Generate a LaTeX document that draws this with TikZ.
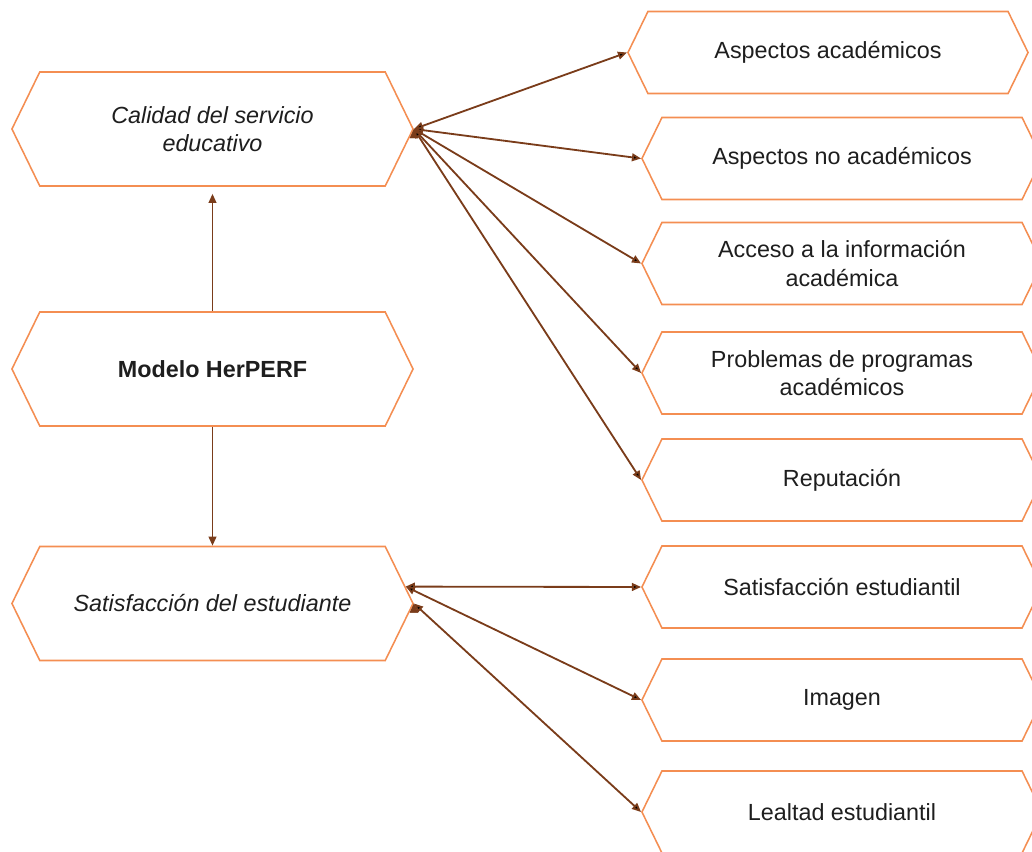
\documentclass[tikz,border=0pt]{standalone}
\usepackage{fontspec}
\setmainfont{Liberation Sans}
\usetikzlibrary{positioning, arrows.meta, shapes.symbols}
\definecolor{hexorange}{RGB}{244,142,82}
\definecolor{linkbrown}{RGB}{122,60,26}
\definecolor{textgray}{RGB}{30,30,30}

\begin{document}
\begin{tikzpicture}[x=0.025cm,y=-0.025cm,>={Triangle[length=6.5pt,width=5.5pt]}]
\tikzstyle{every node}=[font=\fontsize{16.6}{20}\selectfont,text=textgray,align=center]
\tikzstyle{hexbox}=[signal,signal to=east and west,signal pointer angle=128,draw=hexorange,line width=1.1pt,fill=white,inner sep=0pt]
\tikzstyle{bigbox}=[hexbox,minimum width=10.025cm,minimum height=2.85cm]
\tikzstyle{smallbox}=[hexbox,minimum width=10cm,minimum height=2.05cm]
\tikzstyle{link}=[<->,draw=linkbrown,line width=1.3pt]

\useasboundingbox (0,0) rectangle (1032,852);

% left column
\node[bigbox] (cal) at (212.5,129) {\textit{Calidad del servicio}\\\textit{educativo}};
\node[bigbox] (mod) at (212.5,369) {\textbf{Modelo HerPERF}};
\node[bigbox] (sat) at (212.5,603.5) {\textit{Satisfacción del estudiante}};

% right column
\node[smallbox] (asa) at (828,52.5) {Aspectos académicos};
\node[smallbox] (ana) at (842,158.5) {Aspectos no académicos};
\node[smallbox] (acc) at (842,263.5) {Acceso a la información\\académica};
\node[smallbox] (pro) at (842,373) {Problemas de programas\\académicos};
\node[smallbox] (rep) at (842,480) {Reputación};
\node[smallbox] (ses) at (842,587) {Satisfacción estudiantil};
\node[smallbox] (img) at (842,700) {Imagen};
\node[smallbox] (lea) at (842,812) {Lealtad estudiantil};

\draw[link,<-,shorten <=5pt] (cal.south) -- (mod.north);
\draw[link,->] (mod.south) -- (sat.north);

\path[link]
(cal.east) edge (asa.west)
(cal.east) edge (ana.west)
(cal.east) edge (acc.west)
(cal.east) edge (pro.west)
(cal.east) edge (rep.west);

\path[link]
(sat.5) edge (ses.west)
(sat.5) edge (img.west)
(sat.east) edge (lea.west);
\end{tikzpicture}
\end{document}
